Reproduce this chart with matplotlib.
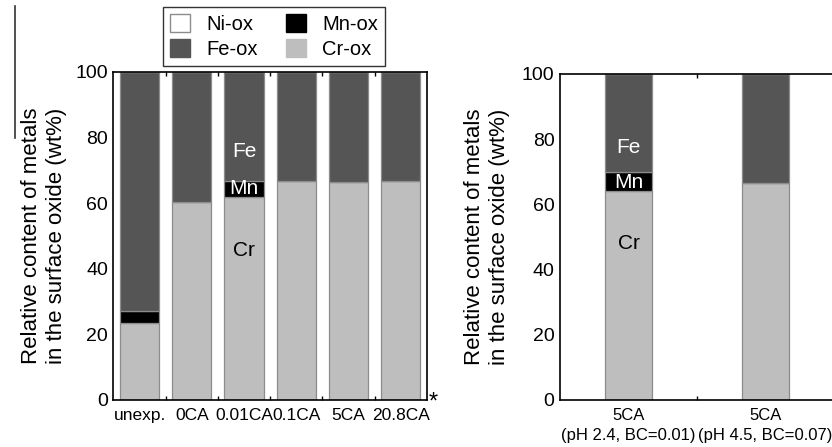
import matplotlib
matplotlib.use("Agg")
from matplotlib import pyplot as plt
from matplotlib.patches import Patch
from matplotlib.lines import Line2D
import numpy as np

plt.rcParams['font.family'] = ['Liberation Sans', 'DejaVu Sans']

# left panel data (wt%)
left_labels = ["unexp.", "0CA", "0.01CA", "0.1CA", "5CA", "20.8CA"]
left_cr = [23.5, 60.5, 62.0, 66.8, 66.6, 66.7]
left_mn = [3.7, 0.0, 4.9, 0.0, 0.0, 0.0]
left_ni = [0.0, 0.0, 0.0, 0.0, 0.0, 0.0]

# right panel data (wt%)
right_labels = ["5CA\n(pH 2.4, BC=0.01)", "5CA\n(pH 4.5, BC=0.07)"]
right_cr = [64.2, 66.7]
right_mn = [5.7, 0.0]
right_ni = [0.0, 0.0]

FE_C = '#555555'
CR_C = '#bebebe'
MN_C = '#000000'
NI_C = '#ffffff'
EDGE = '#8c8c8c'

W, H = 832, 447
fig = plt.figure(figsize=(W / 100, H / 100), dpi=100)


def px_axes(x0, y0, x1, y1):
    # pixel box (top-left origin) -> figure axes
    return fig.add_axes([x0 / W, 1 - y1 / H, (x1 - x0) / W, (y1 - y0) / H])


def stacked(ax, cr, mn, ni, width):
    x = np.arange(1, len(cr) + 1)
    cr = np.array(cr)
    mn = np.array(mn)
    ni = np.array(ni)
    fe = 100 - cr - mn - ni
    kw = dict(width=width, edgecolor=EDGE, linewidth=0.9)
    ax.bar(x, cr, color=CR_C, **kw)
    ax.bar(x, mn, bottom=cr, color=MN_C, **kw)
    ax.bar(x, fe, bottom=cr + mn, color=FE_C, **kw)
    ax.bar(x, ni, bottom=cr + mn + fe, color=NI_C, **kw)
    return x


def style(ax, x, labels, fs):
    ax.set_ylim(0, 100)
    ax.set_xlim(0.5, len(x) + 0.5)
    ax.set_yticks([0, 20, 40, 60, 80, 100])
    ax.tick_params(axis='y', length=0, labelsize=14, pad=4)
    ax.set_xticks(x)
    ax.set_xticklabels(labels, fontsize=fs)
    ax.tick_params(axis='x', which='major', length=0, pad=6)
    ax.set_xticks(np.arange(1.5, len(x), 1.0), minor=True)
    ax.tick_params(axis='x', which='minor', direction='in', length=3,
                   top=True, bottom=True, width=1)
    for s in ax.spines.values():
        s.set_linewidth(1.2)


# left panel
ax1 = px_axes(113.5, 72, 426.7, 400)
x1 = stacked(ax1, left_cr, left_mn, left_ni, 0.75)
style(ax1, x1, left_labels, 12.5)
ax1.text(3, 75.7, "Fe", color='white', fontsize=15, ha='center', va='center')
ax1.text(3, 64.4, "Mn", color='white', fontsize=15, ha='center', va='center')
ax1.text(3, 45.7, "Cr", color='black', fontsize=15, ha='center', va='center')
fig.text(433 / W, 1 - 403 / H, "*", fontsize=17, ha='center', va='center')

# right panel (right edge runs off the figure)
ax2 = px_axes(560, 74, 834, 400)
x2 = stacked(ax2, right_cr, right_mn, right_ni, 0.345)
style(ax2, x2, right_labels, 12)
for lab in ax2.get_xticklabels():
    lab.set_linespacing(1.4)
ax2.text(1, 77.6, "Fe", color='white', fontsize=15, ha='center', va='center')
ax2.text(1, 66.6, "Mn", color='white', fontsize=15, ha='center', va='center')
ax2.text(1, 47.9, "Cr", color='black', fontsize=15, ha='center', va='center')

ylab = "Relative content of metals\nin the surface oxide (wt%)"
fig.text(44 / W, 1 - 236 / H, ylab, rotation=90, fontsize=16, ha='center',
         va='center', linespacing=1.3)
fig.text(487 / W, 1 - 237 / H, ylab, rotation=90, fontsize=16, ha='center',
         va='center', linespacing=1.3)

# legend
handles = [Patch(facecolor=NI_C, edgecolor=EDGE, label='Ni-ox'),
           Patch(facecolor=FE_C, edgecolor=FE_C, label='Fe-ox'),
           Patch(facecolor=MN_C, edgecolor=MN_C, label='Mn-ox'),
           Patch(facecolor=CR_C, edgecolor=CR_C, label='Cr-ox')]
leg = fig.legend(handles=handles, ncol=2, loc='upper left',
                 bbox_to_anchor=(163 / W, 1 - 7 / H), fontsize=14.5,
                 frameon=True, fancybox=False, edgecolor='black',
                 handlelength=1.0, handleheight=1.0, handletextpad=0.8,
                 columnspacing=1.4, borderpad=0.35, labelspacing=0.25,
                 borderaxespad=0)
leg.get_frame().set_linewidth(1.0)

# stray frame line at the far left
fig.add_artist(Line2D([14.5 / W, 14.5 / W], [1 - 6 / H, 1 - 138 / H],
                      transform=fig.transFigure, color='#333333', linewidth=1.2))

fig.savefig("out.png", dpi=100)
